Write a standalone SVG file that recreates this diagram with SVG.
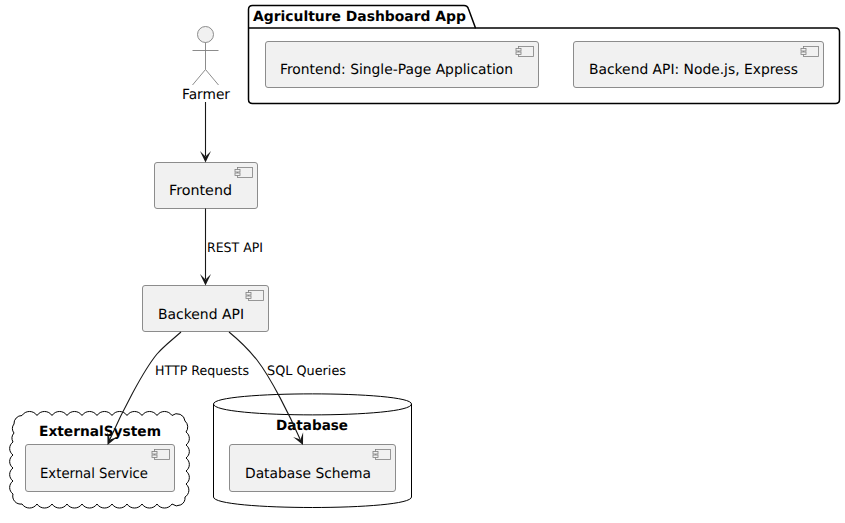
<svg xmlns="http://www.w3.org/2000/svg" width="845" height="523" viewBox="0 0 845 523">
<style>
text{font-family:"DejaVu Sans",sans-serif;fill:#000;text-rendering:geometricPrecision}
.n{font-size:14px}
.l{font-size:13px}
.b{font-size:14px;font-weight:bold}
.c{fill:#f1f1f1;stroke:#7f7f7f;stroke-width:.9}
.i{fill:#f1f1f1;stroke:#7f7f7f;stroke-width:.8}
.f{fill:#fff;stroke:#000;stroke-width:1.5}
.e{fill:none;stroke:#181818;stroke-width:1.1}
.h{fill:#181818}
</style>
<defs>
<g id="ic"><rect class="i" x="-15" y="0" width="15" height="10"/><rect class="i" x="-17.500" y="2" width="5" height="2.500"/><rect class="i" x="-17.500" y="5.500" width="5" height="2.500"/></g>
<path id="ah" class="h" d="M0 0L-5.500 -11.500L0 -6L5.500 -11.500Z"/>
</defs>
<g id="pkg">
<path class="f" d="M248.500 28V9.500Q248.500 5.500 252.500 5.500H464Q467.500 5.500 468.500 9L475.500 28H835.500Q839.500 28 839.500 32V99.500Q839.500 103.500 835.500 103.500H252.500Q248.500 103.500 248.500 99.500Z"/>
<path class="f" style="fill:none" d="M248.500 28H475.500"/>
<text class="b" x="253" y="21" textLength="213" lengthAdjust="spacingAndGlyphs">Agriculture Dashboard App</text>
</g>
<g id="spa"><rect class="c" x="265.500" y="41.500" width="273" height="46" rx="2.500"/><use href="#ic" x="533.500" y="46.500"/><text class="n" x="280" y="74" textLength="233" lengthAdjust="spacingAndGlyphs">Frontend: Single-Page Application</text></g>
<g id="bapi"><rect class="c" x="573.500" y="41.500" width="250" height="46" rx="2.500"/><use href="#ic" x="818.500" y="46.500"/><text class="n" x="589" y="74" textLength="209" lengthAdjust="spacingAndGlyphs">Backend API: Node.js, Express</text></g>
<g id="farmer">
<g fill="none" stroke="#7f7f7f" stroke-width=".9"><circle cx="205.500" cy="34.500" r="8" fill="#f1f1f1"/><path d="M205.500 42.500V69.500M192.500 50.500H218.500M192.500 85L205.500 69.500L218.500 85"/></g>
<text class="n" x="182" y="99" textLength="48" lengthAdjust="spacingAndGlyphs">Farmer</text>
</g>
<g id="frontend"><rect class="c" x="154.500" y="162.500" width="103" height="46" rx="2.500"/><use href="#ic" x="252.500" y="167.500"/><text class="n" x="169" y="195" textLength="63" lengthAdjust="spacingAndGlyphs">Frontend</text></g>
<g id="backend"><rect class="c" x="142.500" y="285.500" width="126" height="46" rx="2.500"/><use href="#ic" x="263.500" y="290.500"/><text class="n" x="158" y="319" textLength="86" lengthAdjust="spacingAndGlyphs">Backend API</text></g>
<g id="externalsystem">
<path d="M14 424A8 8 0 0 1 22 415.500A9 9 0 0 1 37 415.500A9 9 0 0 1 52 415.500A9 9 0 0 1 67 415.500A9 9 0 0 1 82 415.500A9 9 0 0 1 97 415.500A9 9 0 0 1 112 415.500A9 9 0 0 1 127 415.500A9 9 0 0 1 142 415.500A9 9 0 0 1 157 415.500A9 9 0 0 1 172 415.500A8 8 0 0 1 185 421A8 8 0 0 1 186 432A8 8 0 0 1 186 445A8 8 0 0 1 186 458A8 8 0 0 1 186 471A8 8 0 0 1 186 484A8 8 0 0 1 185 497A8 8 0 0 1 172 504A9 9 0 0 1 157 504A9 9 0 0 1 142 504A9 9 0 0 1 127 504A9 9 0 0 1 112 504A9 9 0 0 1 97 504A9 9 0 0 1 82 504A9 9 0 0 1 67 504A9 9 0 0 1 52 504A9 9 0 0 1 37 504A9 9 0 0 1 22 504A8 8 0 0 1 13 494A8 8 0 0 1 13 481A8 8 0 0 1 13 468A8 8 0 0 1 13 455A8 8 0 0 1 13 442A8 8 0 0 1 14 433A7 7 0 0 1 14 424Z" fill="#fff" stroke="#000" stroke-width="1"/>
<text class="b" x="39" y="436" textLength="122" lengthAdjust="spacingAndGlyphs">ExternalSystem</text>
</g>
<g id="extservice"><rect class="c" x="25.500" y="444.500" width="149" height="47" rx="2.500"/><use href="#ic" x="169.500" y="449.500"/><text class="n" x="40" y="478" textLength="108" lengthAdjust="spacingAndGlyphs">External Service</text></g>
<g id="database">
<path d="M213.500 404C213.500 390.500 411.500 390.500 411.500 404V497C411.500 511 213.500 511 213.500 497Z" fill="#fff" stroke="#000" stroke-width="1"/>
<path d="M213.500 404C213.500 418.500 411.500 418.500 411.500 404" fill="none" stroke="#000" stroke-width="1"/>
<text class="b" x="276" y="430" textLength="72" lengthAdjust="spacingAndGlyphs">Database</text>
</g>
<g id="dbschema"><rect class="c" x="229.500" y="444.500" width="166" height="47" rx="2.500"/><use href="#ic" x="390.500" y="449.500"/><text class="n" x="245" y="478" textLength="126" lengthAdjust="spacingAndGlyphs">Database Schema</text></g>
<g id="connectors">
<path class="e" d="M205.500 102V156"/><use href="#ah" x="205.500" y="162.500"/>
<path class="e" d="M205.500 208.500V279"/><use href="#ah" x="205.500" y="285.500"/>
<text class="l" x="207" y="252" textLength="56" lengthAdjust="spacingAndGlyphs">REST API</text>
<path class="e" d="M181 332C172 340 164 346 157 354C143 371 122 412 110 439"/><use href="#ah" transform="translate(107.500 445) rotate(25)"/>
<text class="l" x="155" y="375" textLength="94" lengthAdjust="spacingAndGlyphs">HTTP Requests</text>
<path class="e" d="M229 332C240 341 249 350 257 360C271 378 290 416 300 439"/><use href="#ah" transform="translate(303 445) rotate(-25)"/>
<text class="l" x="267" y="375" textLength="79" lengthAdjust="spacingAndGlyphs">SQL Queries</text>
</g>
</svg>
